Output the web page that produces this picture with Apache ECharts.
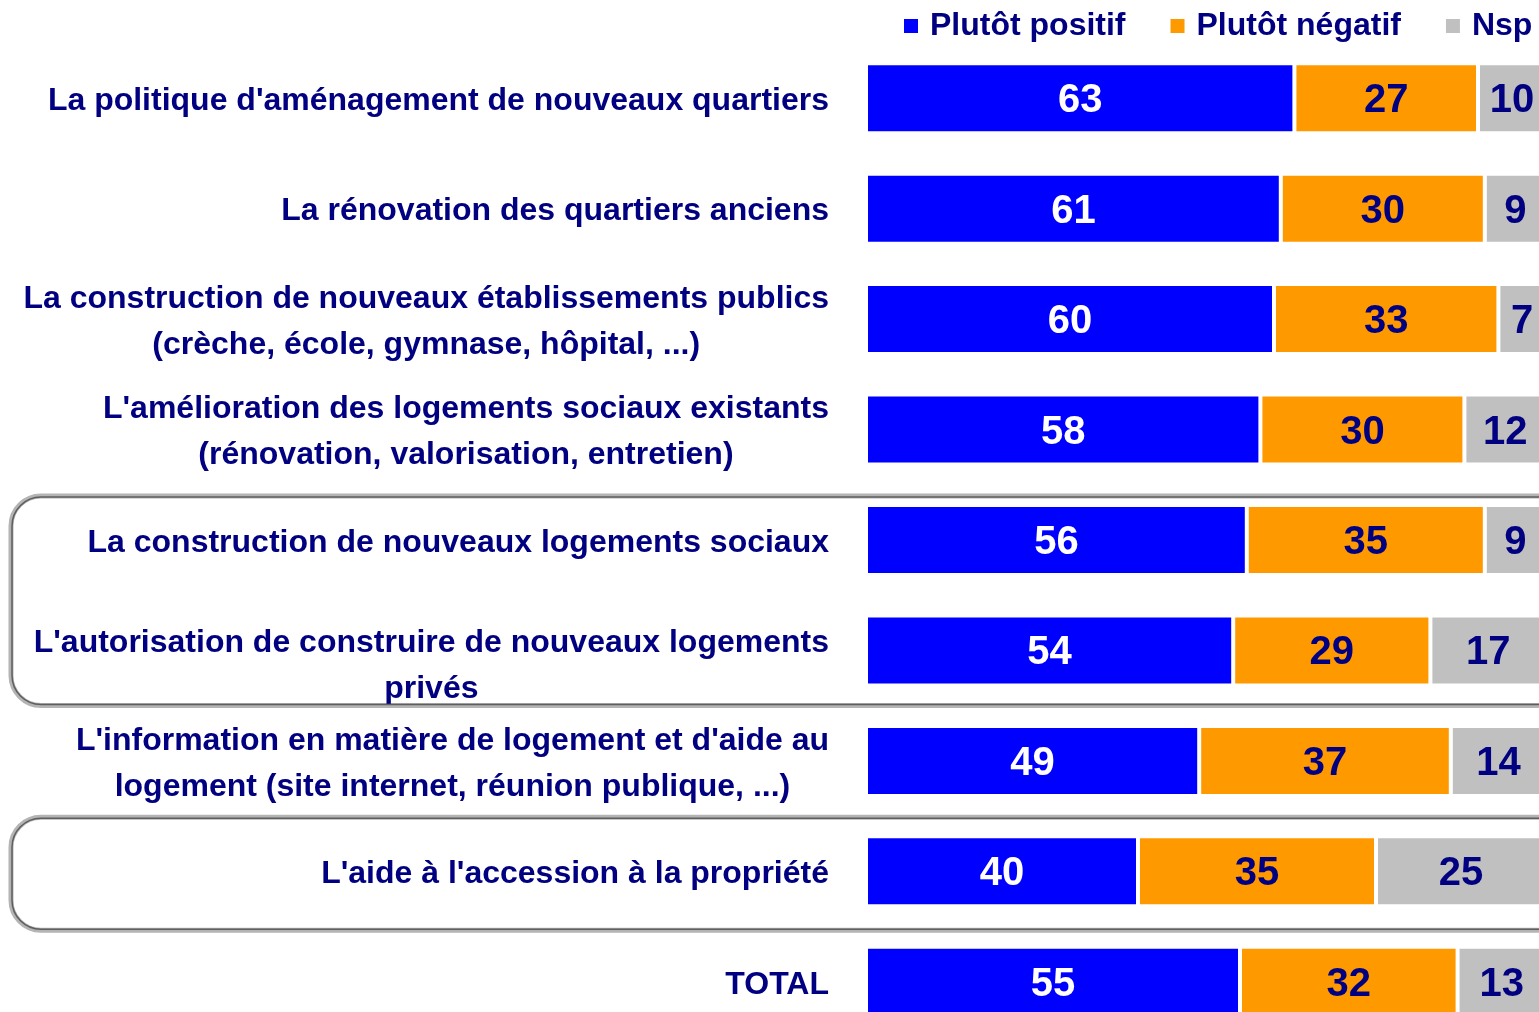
<!DOCTYPE html>
<html>
<head>
<meta charset="utf-8">
<script src="https://cdn.jsdelivr.net/npm/echarts@6/dist/echarts.min.js"></script>
<style>
  html, body { margin: 0; padding: 0; background: #fff; }
  #chart { width: 1539px; height: 1012px; }
</style>
</head>
<body>
<div id="chart"></div>
<script>
const categories = [
  "La politique d'aménagement de nouveaux quartiers",
  "La rénovation des quartiers anciens",
  "La construction de nouveaux établissements publics\n(crèche, école, gymnase, hôpital, ...)",
  "L'amélioration des logements sociaux existants\n(rénovation, valorisation, entretien)",
  "La construction de nouveaux logements sociaux",
  "L'autorisation de construire de nouveaux logements\nprivés",
  "L'information en matière de logement et d'aide au\nlogement (site internet, réunion publique, ...)",
  "L'aide à l'accession à la propriété",
  "TOTAL"
]
const positif = [63, 61, 60, 58, 56, 54, 49, 40, 55]
const negatif = [27, 30, 33, 30, 35, 29, 37, 35, 32]
const nsp = [10, 9, 7, 12, 9, 17, 14, 25, 13]
const seriesNames = ['Plutôt positif', 'Plutôt négatif', 'Nsp']

const NAVY = '#000080'
const FONT = "'Liberation Sans', Arial, sans-serif"

const chart = echarts.init(document.getElementById('chart'))

const makeSeries = (name, data, color, labelColor) => ({
  name: name,
  type: 'bar',
  stack: 'total',
  barWidth: 70,
  data: data,
  itemStyle: {
    color: color,
    borderColor: '#fff',
    borderWidth: 2
  },
  label: {
    show: true,
    position: 'inside',
    offset: [0, 3],
    color: labelColor,
    fontFamily: FONT,
    fontWeight: 'bold',
    fontSize: 40
  }
})

const labelFont = { color: NAVY, fontFamily: FONT, fontWeight: 'bold', fontSize: 32, lineHeight: 46 }

const option = {
  animation: false,
  backgroundColor: '#fff',
  legend: {
    left: 899,
    top: 5,
    width: 900,
    itemWidth: 14,
    itemHeight: 14,
    itemGap: 45,
    icon: 'rect',
    itemStyle: { borderWidth: 0 },
    textStyle: {
      color: NAVY,
      fontFamily: FONT,
      fontWeight: 'bold',
      fontSize: 32,
      padding: [0, 0, 0, 7]
    },
    data: seriesNames
  },
  grid: {
    left: 866,
    width: 680,
    top: 43,
    height: 994,
    outerBoundsMode: 'none'
  },
  xAxis: {
    type: 'value',
    min: 0,
    max: 100,
    show: false
  },
  yAxis: {
    type: 'category',
    inverse: true,
    data: categories,
    axisLine: { show: false },
    axisTick: { show: false },
    splitLine: { show: false },
    axisLabel: {
      margin: 37,
      align: 'right',
      padding: [6, 0, 0, 0],
      formatter: (v, idx) => {
        const lines = v.split('\n')
        // the "privés" label sits lower in its box
        const low = idx === 5
        return lines.map((l, i) => {
          const tag = i === 0 ? (low ? 'c' : 'a') : (low ? 'e' : 'b')
          return '{' + tag + '|' + l + '}'
        }).join('\n')
      },
      rich: {
        a: labelFont,
        b: Object.assign({ align: 'center' }, labelFont),
        c: Object.assign({ padding: [26, 0, 0, 0] }, labelFont),
        e: Object.assign({ align: 'center', padding: [26, 0, 0, 0] }, labelFont)
      }
    }
  },
  series: [
    makeSeries(seriesNames[0], positif, '#0000FF', '#fff'),
    makeSeries(seriesNames[1], negatif, '#FF9900', NAVY),
    makeSeries(seriesNames[2], nsp, '#C0C0C0', NAVY)
  ]
}

chart.setOption(option)

// rounded frames around some rows
const yOf = (i) => chart.convertToPixel({ yAxisIndex: 0 }, categories[i])
const frame = (top, bottom) => {
  const shape = { x: 11, y: top, width: 1600, height: bottom - top, r: 30 }
  return [
    { type: 'rect', shape: shape, style: { fill: null, stroke: '#b4b4b4', lineWidth: 5 }, z: 0 },
    { type: 'rect', shape: { x: shape.x + 1, y: shape.y + 1, width: shape.width, height: shape.height - 2, r: 29 },
      style: { fill: null, stroke: '#5e5e5e', lineWidth: 1.5 }, z: 1 }
  ]
}
chart.setOption({
  graphic: [
    ...frame(yOf(4) - 44, yOf(5) + 55),
    ...frame(yOf(7) - 54, yOf(7) + 59)
  ]
})
</script>
</body>
</html>
